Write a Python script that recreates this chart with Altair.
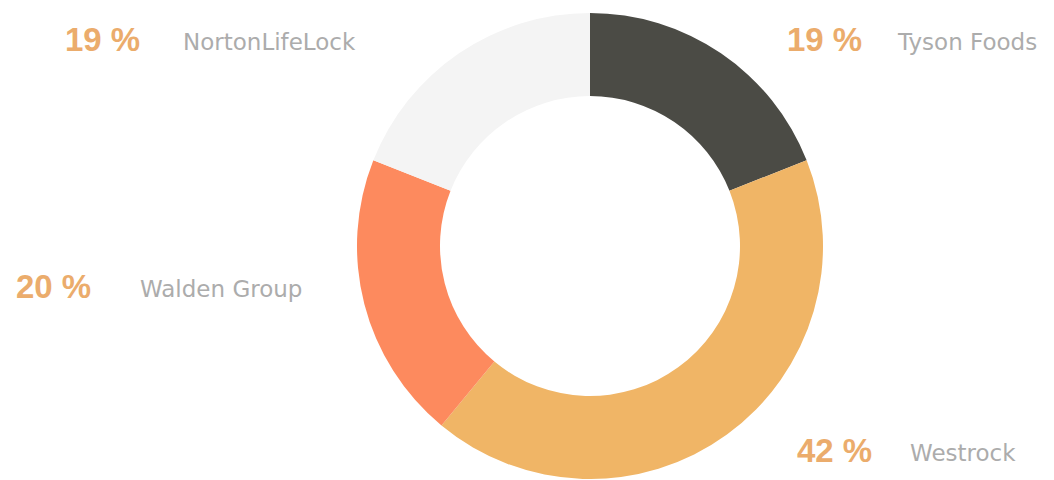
import altair as alt
import pandas as pd

# Segments, clockwise from 12 o'clock
companies = ["Tyson Foods", "Westrock", "Walden Group", "NortonLifeLock"]
shares = [19, 42, 20, 19]
colors = ["#4b4b45", "#f0b566", "#fd8a5e", "#f4f4f4"]
order_idx = [0, 1, 2, 3]

# Labels as they appear around the donut
label_pct = ["19 %", "42 %", "20 %", "19 %"]
label_name = ["Tyson Foods", "Westrock", "Walden Group", "NortonLifeLock"]

df = pd.DataFrame({"company": companies, "share": shares, "idx": order_idx})

W, H = 1038, 464
CX, CY = 582, 238

donut = alt.Chart(df).mark_arc(innerRadius=150, outerRadius=233).encode(
    theta=alt.Theta("share:Q", stack=True),
    order=alt.Order("idx:Q"),
    color=alt.Color("company:N", scale=alt.Scale(domain=companies, range=colors), legend=None),
    x=alt.value(CX),
    y=alt.value(CY),
)

# label anchor positions (left edge of percentage, name), vertical centre
pos = {
    "Tyson Foods": (779, 890, 33),
    "Westrock": (789, 902, 444),
    "Walden Group": (8, 132, 280),
    "NortonLifeLock": (57, 175, 33),
}

layers = [donut]
for c, p, n in zip(companies, label_pct, label_name):
    xp, xn, yy = pos[c]
    sub = pd.DataFrame({"t": [p], "n": [n]})
    layers.append(
        alt.Chart(sub).mark_text(
            align="left", baseline="middle", fontSize=33, fontWeight="bold",
            font="Liberation Sans", color="#ebac6c",
        ).encode(text="t:N", x=alt.value(xp), y=alt.value(yy))
    )
    layers.append(
        alt.Chart(sub).mark_text(
            align="left", baseline="middle", fontSize=23,
            font="DejaVu Sans", color="#acacac",
        ).encode(text="n:N", x=alt.value(xn), y=alt.value(yy + 2))
    )

chart = alt.layer(*layers).properties(
    width=W, height=H, padding=0
).configure_view(stroke=None)

chart.save("out.html", embed_options={"renderer": "svg", "actions": False})
